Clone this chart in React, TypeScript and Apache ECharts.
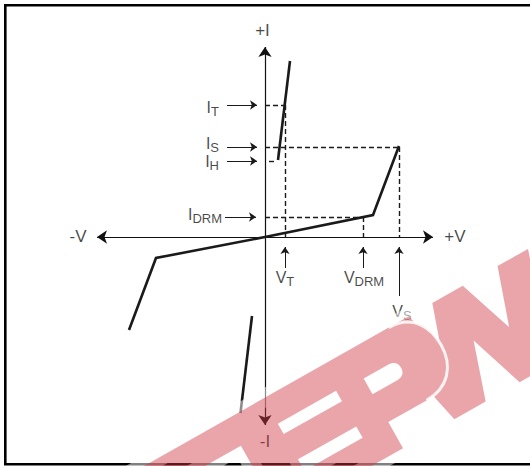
import React, { useEffect, useRef } from 'react';
import * as echarts from 'echarts';

const FONT = '"Liberation Sans", Arial, Helvetica, sans-serif';
const INK = '#1a1a1a';
const TEXT_INK = 'rgba(22,22,22,0.99)';

// ---- schematic data (arbitrary units, origin at the axes' crossing) ----
const mainCurve: number[][] = [[-136, -93], [-109, -21], [0, 0], [108, 22], [134, 91]];
const onStateUpper: number[][] = [[13, 77], [25, 176]];
const onStateLower: number[][] = [[-13, -79], [-24.5, -176]];
const xAxisLine: number[][] = [[-168, 0], [168, 0]];
const yAxisLine: number[][] = [[0, 190], [0, -188]];

// current levels
const levelIT = 132;
const levelIS = 90;
const levelIH = 76;
const levelIDRM = 20;
// voltage levels
const levelVT = 20;
const levelVDRM = 98;
const levelVS = 134;

const dashedGuides: number[][][] = [
  [[0, levelIT], [levelVT, levelIT]],
  [[levelVT, levelIT], [levelVT, 0]],
  [[0, levelIS], [levelVS, levelIS]],
  [[levelVS, levelIS], [levelVS, 0]],
  [[0, levelIDRM], [levelVDRM, levelIDRM]],
  [[levelVDRM, levelIDRM], [levelVDRM, 0]],
  [[4, levelIH], [12, levelIH]],
];

const pointerArrows: number[][][] = [
  [[-38, levelIT], [-8, levelIT]],
  [[-38, levelIS], [-8, levelIS]],
  [[-38, levelIH], [-8, levelIH]],
  [[-40, levelIDRM], [-9, levelIDRM]],
  [[levelVT, -31], [levelVT, -10]],
  [[levelVDRM, -31], [levelVDRM, -10]],
  [[levelVS, -59], [levelVS, -10]],
];

// label texts (rich formatter) and anchor points
const labelTexts = [
  '{b|+I}', '{b|-I}', '{b|-V}', '{b|+V}',
  '{m|I}{s|T}', '{m|I}{s|S}', '{m|I}{s|H}', '{m|I}{s|DRM}',
  '{m|V}{s|T}', '{m|V}{s|DRM}', '{m|V}{s|S}',
];
const labelPoints: number[][] = [
  [-2.5, 207], [0, -204], [-187, 1], [190, 1],
  [-46, 130], [-46, 93.5], [-46, 75.5], [-43, 22.5],
  [20, -40.5], [99, -40.5], [137, -74.5],
];
const labelAligns = ['center', 'center', 'center', 'center',
  'right', 'right', 'right', 'right', 'center', 'center', 'center'];

// watermark outline (local, text-aligned frame)
const markPath = [
  // left bar + E + P outline, with E slots and P counter as holes
  'M-80 0H263C290 0 300 20 300 41C300 65 285 82 260 82H216V112H76V30H-80Z',
  'M119 29V41H186V29Z',
  'M119 70V83H186V70Z',
  'M216 32V50H245C251 50 254 46 254 41C254 36 251 32 245 32Z',
  // W
  'M250 0H286L296.7 48L313 0H348L311 112H275Z',
  'M313 0H348L386 112H350Z',
  'M388 0H423L386 112H350Z',
].join('');
const bowlPath = 'M263 0C290 0 300 20 300 41C300 65 285 82 260 82';

echarts.graphic.registerShape('epwMark', echarts.graphic.extendPath(markPath, {}) as any);
echarts.graphic.registerShape('epwBowl', echarts.graphic.extendPath(bowlPath, {}) as any);

const tok = { color: TEXT_INK, fontFamily: FONT, textBorderWidth: 0, textShadowBlur: 0 };
const rich = {
  b: { ...tok, fontSize: 17 },
  m: { ...tok, fontSize: 16 },
  s: { ...tok, fontSize: 13, padding: [8, 0, 0, 0] },
};

export default function App() {
  const ref = useRef<HTMLDivElement>(null);
  useEffect(() => {
    if (!ref.current) return;
    const chart = echarts.init(ref.current, undefined, { renderer: 'svg' });
    const wmPos = { x: 160, y: 457, rotation: 0.5149 };
    chart.setOption({
      animation: false,
      backgroundColor: '#ffffff',
      color: [INK],
      grid: { left: 0, right: 0, top: 0, bottom: 0 },
      xAxis: { type: 'value', min: -265, max: 265, show: false },
      yAxis: { type: 'value', min: -229, max: 237, show: false },
      graphic: [
        {
          type: 'rect', z: 1, silent: true,
          shape: { x: 5.3, y: 5.3, width: 560, height: 459 },
          style: { fill: 'none', stroke: '#000', lineWidth: 2.6 },
        },
        {
          type: 'epwMark', z: 10, silent: true, ...wmPos,
          style: { fill: 'none', stroke: 'rgba(255,255,255,0.5)', lineWidth: 18, lineJoin: 'round' },
        },
        {
          type: 'epwMark', z: 11, silent: true, ...wmPos,
          style: { fill: 'rgba(206,55,64,0.45)' },
        },
        {
          type: 'epwBowl', z: 12, silent: true, ...wmPos,
          style: { fill: 'none', stroke: 'rgba(255,255,255,0.85)', lineWidth: 3 },
        },
      ],
      series: [
        {
          type: 'lines', coordinateSystem: 'cartesian2d', polyline: true, silent: true, z: 3,
          symbol: ['none', 'none'],
          lineStyle: { color: INK, width: 2.6, opacity: 1 },
          data: [{ coords: mainCurve }, { coords: onStateUpper }, { coords: onStateLower }],
        },
        {
          type: 'lines', coordinateSystem: 'cartesian2d', silent: true, z: 2,
          symbol: ['arrow', 'arrow'], symbolSize: 10,
          lineStyle: { color: '#111', width: 1.2, opacity: 1 },
          data: [{ coords: xAxisLine }, { coords: yAxisLine }],
        },
        {
          type: 'lines', coordinateSystem: 'cartesian2d', silent: true, z: 2,
          symbol: ['none', 'none'],
          lineStyle: { color: INK, width: 1.4, type: [5, 3], opacity: 1 },
          data: dashedGuides.map((c) => ({ coords: c })),
        },
        {
          type: 'lines', coordinateSystem: 'cartesian2d', silent: true, z: 2,
          symbol: ['none', 'arrow'], symbolSize: 7,
          lineStyle: { color: INK, width: 1, opacity: 1 },
          data: pointerArrows.map((c) => ({ coords: c })),
        },
        {
          type: 'scatter', symbolSize: 0, silent: true, z: 4,
          itemStyle: { color: INK },
          data: labelPoints.map((p, i) => ({
            value: p,
            label: {
              show: true,
              formatter: labelTexts[i],
              position: [0, 0],
              align: labelAligns[i],
              verticalAlign: 'middle',
              color: TEXT_INK,
              textBorderWidth: 0,
              rich,
            },
          })),
        },
      ],
    });
    return () => chart.dispose();
  }, []);
  return (
    <div
      ref={ref}
      style={{ position: 'absolute', left: 0, top: 0, width: 530, height: 466 }}
    />
  );
}
